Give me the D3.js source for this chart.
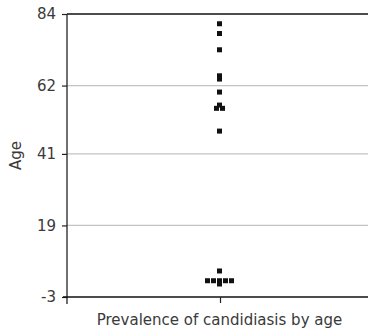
<!DOCTYPE html>
<html>
<head>
<meta charset="utf-8">
<script src="https://cdn.jsdelivr.net/npm/d3@7"></script>
<style>
  html, body { margin: 0; padding: 0; background: #fff; }
  text { font-family: "DejaVu Sans", sans-serif; fill: #3a3a3a; }
</style>
</head>
<body>
<svg id="chart" width="368" height="336"></svg>
<script>
// Ages of the patients in the sample
const categories = ["Prevalence of candidiasis by age"];
const ages = [81, 78, 73, 65, 64, 60, 56, 55, 55, 48, 5, 2, 2, 2, 2, 2, 1];
const yTicks = [-3, 19, 41, 62, 84];
const yTitle = "Age";

const svg = d3.select("#chart");
const margin = { top: 14, right: -6, bottom: 39, left: 67 };
const W = 368, H = 336;

const x = d3.scaleBand()
  .domain(categories)
  .range([margin.left, W - margin.right]);

const y = d3.scaleLinear()
  .domain([-3, 84])
  .range([H - margin.bottom, margin.top]);

// horizontal gridlines
svg.append("g")
  .selectAll("line")
  .data(yTicks.filter(t => t !== -3 && t !== 84))
  .join("line")
  .attr("x1", margin.left)
  .attr("x2", W)
  .attr("y1", d => y(d))
  .attr("y2", d => y(d))
  .attr("stroke", "#c4c4c4")
  .attr("stroke-width", 1.2);

// top frame line
svg.append("line")
  .attr("x1", margin.left).attr("x2", W)
  .attr("y1", y(84)).attr("y2", y(84))
  .attr("stroke", "#111").attr("stroke-width", 1.6);

// y axis
const yAxis = svg.append("g")
  .attr("transform", `translate(${margin.left},0)`)
  .call(d3.axisLeft(y).tickValues(yTicks).tickSize(5).tickPadding(6).tickFormat(d => String(d)));
yAxis.select(".domain").attr("stroke", "#222").attr("stroke-width", 1.3)
  .attr("d", `M0,${y(84)}V${y(-3) + 7}`);
yAxis.selectAll(".tick line").attr("stroke", "#222").attr("stroke-width", 1.2);
yAxis.selectAll(".tick text")
  .style("font-family", "DejaVu Sans, sans-serif")
  .style("font-size", "15px")
  .attr("fill", "#3a3a3a");

// x axis
const xAxis = svg.append("g")
  .attr("transform", `translate(0,${y(-3)})`)
  .call(d3.axisBottom(x).tickSize(6).tickFormat(""));
xAxis.select(".domain").attr("stroke", "#111").attr("stroke-width", 1.6)
  .attr("d", `M${margin.left - 4},0H${W}`);
xAxis.selectAll(".tick line").attr("stroke", "#222").attr("stroke-width", 1.2);

// x title
svg.append("text")
  .attr("x", x(categories[0]) + x.bandwidth() / 2 - 1)
  .attr("y", 325)
  .attr("text-anchor", "middle")
  .style("font-size", "15px")
  .text(categories[0]);

// y title
svg.append("text")
  .attr("transform", `translate(21,${(y(84) + y(-3)) / 2}) rotate(-90)`)
  .attr("text-anchor", "middle")
  .style("font-size", "15px")
  .text(yTitle);

// dot plot: equal ages sit side by side around the category centre
const size = 5, gap = 6;
const counts = d3.rollup(ages, v => v.length, d => d);
const seen = new Map();
const pts = ages.map(a => {
  const n = counts.get(a);
  const i = seen.get(a) || 0;
  seen.set(a, i + 1);
  return { age: a, off: (i - (n - 1) / 2) * gap };
});
const cx = x(categories[0]) + x.bandwidth() / 2 - 1;

svg.append("g")
  .selectAll("rect")
  .data(pts)
  .join("rect")
  .attr("x", d => cx + d.off - size / 2)
  .attr("y", d => y(d.age) - size / 2)
  .attr("width", size)
  .attr("height", size)
  .attr("fill", "#111");
</script>
</body>
</html>
